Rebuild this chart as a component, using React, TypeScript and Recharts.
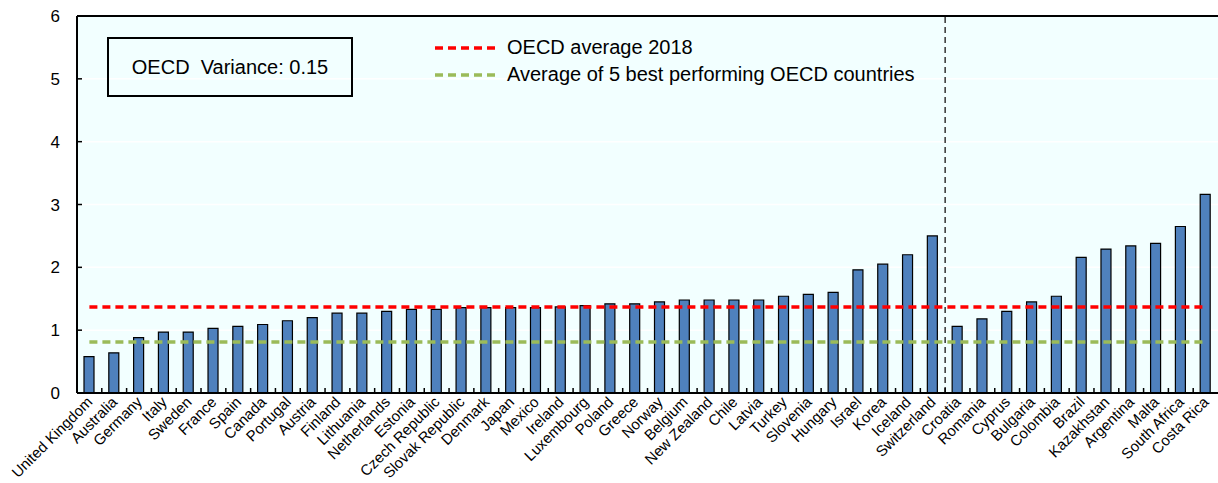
import React from "react"
import {
  Bar,
  CartesianGrid,
  ComposedChart,
  Line,
  ReferenceLine,
  XAxis,
  YAxis,
} from "recharts"

const countries = [
  "United Kingdom", "Australia", "Germany", "Italy", "Sweden", "France", "Spain",
  "Canada", "Portugal", "Austria", "Finland", "Lithuania", "Netherlands", "Estonia",
  "Czech Republic", "Slovak Republic", "Denmark", "Japan", "Mexico", "Ireland",
  "Luxembourg", "Poland", "Greece", "Norway", "Belgium", "New Zealand", "Chile",
  "Latvia", "Turkey", "Slovenia", "Hungary", "Israel", "Korea", "Iceland",
  "Switzerland", "Croatia", "Romania", "Cyprus", "Bulgaria", "Colombia", "Brazil",
  "Kazakhstan", "Argentina", "Malta", "South Africa", "Costa Rica",
]

const values = [
  0.58, 0.64, 0.88, 0.97, 0.97, 1.03, 1.06, 1.09, 1.15, 1.2, 1.27, 1.27, 1.3, 1.33,
  1.33, 1.36, 1.36, 1.36, 1.36, 1.37, 1.39, 1.42, 1.42, 1.45, 1.48, 1.48, 1.48,
  1.48, 1.54, 1.57, 1.6, 1.96, 2.05, 2.2, 2.5, 1.06, 1.18, 1.3, 1.45, 1.54, 2.16,
  2.29, 2.34, 2.38, 2.65, 3.16,
]

const oecdAverage = 1.37
const best5Average = 0.81
const yTicks = [0, 1, 2, 3, 4, 5, 6]

const data = countries.map((name, i) => ({
  name,
  value: values[i],
  avg: oecdAverage,
  best: best5Average,
}))

const W = 1218
const H = 483
const LEFT = 77
const band = (W - LEFT) / countries.length
const font = "'Liberation Sans', Arial, sans-serif"

const XTick = (props: any) => {
  const { x, y, payload, index } = props
  const tx = x + 4
  const ty = y + 10
  return (
    <g>
      {index < countries.length - 1 && (
        <line x1={x + band / 2} x2={x + band / 2} y1={y} y2={y - 5} stroke="#000" strokeWidth={1.5} />
      )}
      <text
        x={tx}
        y={ty}
        textAnchor="end"
        fontSize={15}
        fontFamily={font}
        fill="#000"
        transform={`rotate(-45 ${tx} ${ty})`}
      >
        {payload.value}
      </text>
    </g>
  )
}

const YTick = (props: any) => {
  const { x, y, payload } = props
  return (
    <g>
      <line x1={x} x2={x + 5} y1={y} y2={y} stroke="#000" strokeWidth={1.5} />
      <text x={x - 17} y={y + 6} textAnchor="end" fontSize={17} fontFamily={font} fill="#000">
        {payload.value}
      </text>
    </g>
  )
}

const legendItems = [
  { label: "OECD average 2018", color: "#ff0000" },
  { label: "Average of 5 best performing OECD countries", color: "#9bbb59" },
]

export default function App() {
  return (
    <div style={{ position: "absolute", left: 0, top: 0, width: W, height: H, background: "#fff" }}>
      <ComposedChart
        width={W}
        height={H}
        data={data}
        margin={{ top: 16, right: 0, bottom: 0, left: 0 }}
      >
        <CartesianGrid fill="#f2ffff" stroke="#ffffff" strokeWidth={1.5} vertical={false} />
        <XAxis
          dataKey="name"
          interval={0}
          height={90}
          tickSize={0}
          tickMargin={0}
          tick={<XTick />}
          axisLine={{ stroke: "#000", strokeWidth: 2 }}
          tickLine={false}
        />
        <YAxis
          domain={[0, 6]}
          ticks={yTicks}
          width={LEFT}
          tickSize={0}
          tickMargin={0}
          tick={<YTick />}
          axisLine={{ stroke: "#000", strokeWidth: 2 }}
          tickLine={false}
        />
        <ReferenceLine y={6} stroke="#000" strokeWidth={2} />
        <Bar dataKey="value" fill="#4f81bd" stroke="#000" strokeWidth={1.2} barSize={10} isAnimationActive={false} />
        <Line
          dataKey="avg"
          stroke="#ff0000"
          strokeWidth={3.5}
          strokeDasharray="8 5"
          dot={false}
          activeDot={false}
          isAnimationActive={false}
        />
        <Line
          dataKey="best"
          stroke="#9bbb59"
          strokeWidth={3.5}
          strokeDasharray="8 5"
          dot={false}
          activeDot={false}
          isAnimationActive={false}
        />
        <ReferenceLine x="Croatia" position="start" stroke="#333" strokeWidth={1.5} strokeDasharray="6 4" />
      </ComposedChart>

      {/* legend */}
      <div
        style={{
          position: "absolute",
          left: 434,
          top: 34,
          fontFamily: font,
          fontSize: 20,
          lineHeight: "27px",
          color: "#000",
        }}
      >
        {legendItems.map((item) => (
          <div key={item.label} style={{ display: "flex", alignItems: "center" }}>
            <svg width={66} height={6} style={{ marginRight: 7 }}>
              <line x1={1} x2={65} y1={3} y2={3} stroke={item.color} strokeWidth={3.5} strokeDasharray="8 5" />
            </svg>
            {item.label}
          </div>
        ))}
      </div>

      <div
        style={{
          position: "absolute",
          left: 107,
          top: 37,
          width: 242,
          height: 56,
          border: "2px solid #000",
          display: "flex",
          alignItems: "center",
          justifyContent: "center",
          fontFamily: font,
          fontSize: 20,
          whiteSpace: "pre",
        }}
      >
        {"OECD  Variance: 0.15"}
      </div>
    </div>
  )
}
